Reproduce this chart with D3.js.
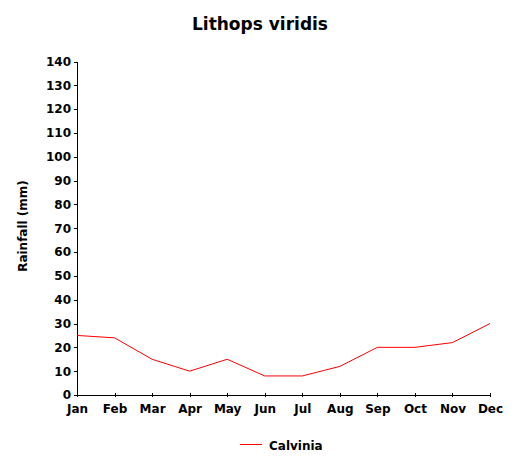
<!DOCTYPE html>
<html><head><meta charset="utf-8">
<script src="https://cdn.jsdelivr.net/npm/d3@7"></script>
<style>body{margin:0;background:#fff}svg{display:block}text{font-family:"DejaVu Sans",sans-serif;font-weight:bold;fill:#000}</style>
</head><body><div id="c"></div>
<script>
const months = ["Jan","Feb","Mar","Apr","May","Jun","Jul","Aug","Sep","Oct","Nov","Dec"];
const calvinia = [25,24,15,10,15,8,8,12,20,20,22,30];
const yTicks = [0,10,20,30,40,50,60,70,80,90,100,110,120,130,140];
const title = "Lithops viridis";
const yLabel = "Rainfall (mm)";
const seriesName = "Calvinia";

const W=522,H=469;
const svg=d3.select("#c").append("svg").attr("width",W).attr("height",H);
const x=d3.scalePoint().domain(months).range([77,490]);
const y=d3.scaleLinear().domain([0,140]).range([395,61.5]);

svg.append("text").attr("x",260).attr("y",30).attr("text-anchor","middle").style("font-size","17px").text(title);
svg.append("text").attr("transform","translate(27,226) rotate(-90)").attr("text-anchor","middle").style("font-size","12px").text(yLabel);

const ya=svg.append("g").attr("transform","translate(77,0)").call(d3.axisLeft(y).tickValues(yTicks).tickSize(3).tickPadding(3).tickSizeOuter(0));
ya.selectAll(".tick line").attr("x2",-3).attr("x1",1);
const xa=svg.append("g").attr("transform","translate(0,395)").call(d3.axisBottom(x).tickSize(2).tickPadding(7).tickSizeOuter(0));
xa.selectAll(".tick line").attr("y1",-2).attr("y2",2);
[ya,xa].forEach(a=>{a.selectAll("path,line").attr("stroke","#000").attr("shape-rendering","crispEdges");a.selectAll("text").style("font-size","12px").style("font-family","'DejaVu Sans',sans-serif").style("font-weight","bold").attr("fill","#000");});

svg.append("path").datum(calvinia).attr("fill","none").attr("stroke","#ff0000").attr("stroke-width",1)
  .attr("d",d3.line().x((d,i)=>x(months[i])).y(d=>y(d)));

svg.append("line").attr("x1",240).attr("x2",262).attr("y1",444.5).attr("y2",444.5).attr("stroke","#ff0000").attr("shape-rendering","crispEdges");
svg.append("text").attr("x",269).attr("y",450).style("font-size","12px").text(seriesName);
</script></body></html>
